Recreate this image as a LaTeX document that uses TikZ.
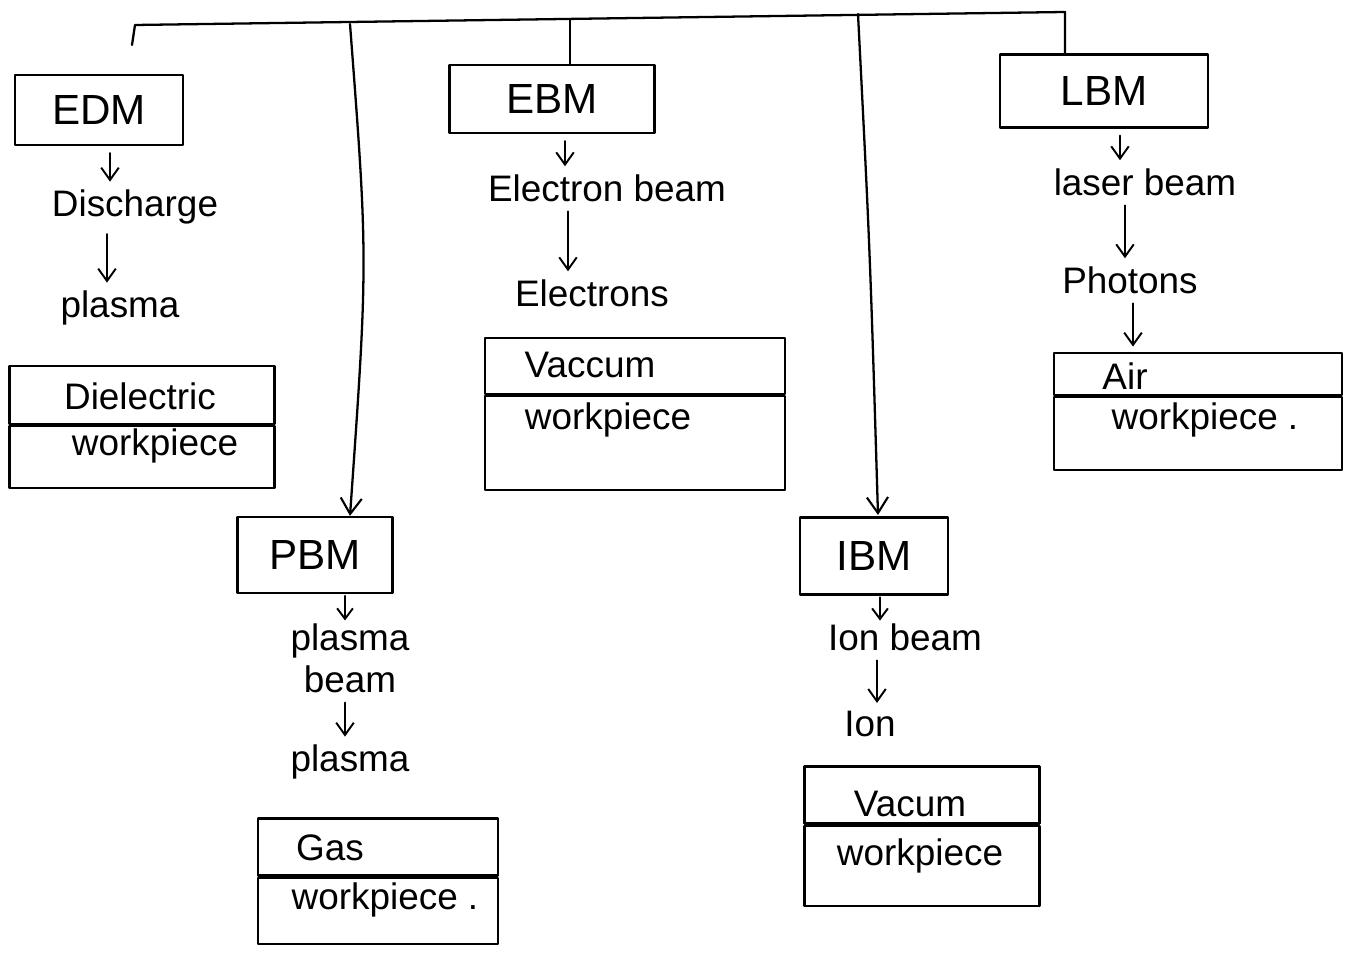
\documentclass[tikz,border=0pt]{standalone}
\usepackage{fontspec}
\setmainfont{Liberation Sans}
\usetikzlibrary{arrows.meta}
\begin{document}
\begin{tikzpicture}[x=0.02cm,y=-0.02cm,
  line width=1.3pt, line cap=round, line join=round,
  box/.style={draw, line width=1.3pt, inner sep=0pt},
  lbl/.style={font=\fontsize{21}{24}\selectfont, inner sep=1pt, align=center},
  blbl/.style={font=\fontsize{24}{28}\selectfont, inner sep=1pt},
  arr/.style={-{Straight Barb[length=9pt,width=12pt,line width=1.2pt]}},
  sarr/.style={-{Straight Barb[length=7pt,width=10pt,line width=1.1pt]}, line width=1.1pt, shorten <=4pt, shorten >=3pt},
  tarr/.style={-{Straight Barb[length=6pt,width=9pt,line width=1.1pt]}, line width=1.1pt, shorten <=1pt}]
\useasboundingbox (0,0) rectangle (1353,955);
\fill[white] (0,0) rectangle (1353,955);

% ---------- top level boxes ----------
\node[box, minimum width=168*0.02cm, minimum height=70*0.02cm] (edm) at (99,110) {};
\node[blbl] (edmt) at (edm.center) {EDM};
\node[box, minimum width=205*0.02cm, minimum height=68*0.02cm] (ebm) at (552,99) {};
\node[blbl] (ebmt) at (ebm.center) {EBM};
\node[box, minimum width=208*0.02cm, minimum height=73*0.02cm] (lbm) at (1104,91) {};
\node[blbl] (lbmt) at (lbm.center) {LBM};
\node[box, minimum width=155*0.02cm, minimum height=76*0.02cm] (pbm) at (315,555) {};
\node[blbl] (pbmt) at (pbm.center) {PBM};
\node[box, minimum width=148*0.02cm, minimum height=77*0.02cm] (ibm) at (874,556) {};
\node[blbl] (ibmt) at (ibm.center) {IBM};

% ---------- top connectors ----------
\coordinate (tl) at (132,45);
\coordinate (tc) at (135,25);
\coordinate (tr) at (1065,12);
\coordinate (te) at (570,20);
\coordinate (p1) at (350,24);
\coordinate (i1) at (858,14);
\draw (tl) -- (tc) -- (tr) -- (tr |- lbm.north);
\draw (te) -- (te |- ebm.north);
\draw[arr] (p1) .. controls (368,260) .. (p1 |- pbm.north);
\draw[arr] (i1) .. controls (870,250) .. (878,515);

% ---------- EDM column ----------
\node[lbl] (dis) at (135,207) {Discharge};
\node[lbl] (pl1) at (120,308) {plasma};
\draw[sarr] (edm.south -| 110,0) -- (dis.north -| 110,0);
\draw[sarr] (dis.south -| 107,0) -- (pl1.north -| 107,0);
\node[box, minimum width=265*0.02cm, minimum height=58*0.02cm] (die) at (142,395) {};
\node[box, minimum width=265*0.02cm, minimum height=62*0.02cm, anchor=north] (wp1) at (die.south) {};
\node[lbl] (diet) at (140,396) {Dielectric};
\node[lbl] (wp1t) at (155,446) {workpiece};

% ---------- EBM column ----------
\node[lbl] (eb) at (607,188) {Electron beam};
\node[lbl] (els) at (592,293) {Electrons};
\draw[sarr] (ebm.south -| 565,0) -- (eb.north -| 565,0);
\draw[sarr] (eb.south -| 568,0) -- (els.north -| 568,0);
\node[box, minimum width=300*0.02cm, minimum height=56*0.02cm] (vac1) at (635,366) {};
\node[box, minimum width=300*0.02cm, minimum height=94*0.02cm, anchor=north] (wp2) at (vac1.south) {};
\node[lbl] (vac1t) at (590,365) {Vaccum};
\node[lbl] (wp2t) at (608,420) {workpiece};

% ---------- LBM column ----------
\node[lbl] (lb) at (1145,182) {laser beam};
\node[lbl] (ph) at (1130,280) {Photons};
\draw[sarr] (lbm.south -| 1120,0) -- (lb.north -| 1120,0);
\draw[sarr] (lb.south -| 1125,0) -- (ph.north -| 1125,0);
\node[box, minimum width=288*0.02cm, minimum height=42*0.02cm] (air) at (1198,374) {};
\node[box, minimum width=288*0.02cm, minimum height=73*0.02cm, anchor=north] (wp3) at (air.south) {};
\draw[sarr] (ph.south -| 1133,0) -- (air.north -| 1133,0);
\node[lbl] (airt) at (1125,376) {Air};
\node[lbl] (wp3t) at (1205,420) {workpiece .};

% ---------- PBM column ----------
\node[lbl] (pb) at (350,658) {plasma\\beam};
\node[lbl] (pl2) at (350,762) {plasma};
\draw[tarr] (pbm.south -| 345,0) -- (pb.north -| 345,0);
\draw[sarr] (pb.south -| 345,0) -- (pl2.north -| 345,0);
\node[box, minimum width=240*0.02cm, minimum height=57*0.02cm] (gas) at (378,847) {};
\node[box, minimum width=240*0.02cm, minimum height=66*0.02cm, anchor=north] (wp4) at (gas.south) {};
\node[lbl] (gast) at (330,848) {Gas};
\node[lbl] (wp4t) at (385,900) {workpiece .};

% ---------- IBM column ----------
\node[lbl] (ib) at (905,637) {Ion beam};
\node[lbl] (ion) at (870,724) {Ion};
\draw[tarr] (ibm.south -| 880,0) -- (ib.north -| 880,0);
\draw[sarr] (ib.south -| 877,0) -- (ion.north -| 877,0);
\node[box, minimum width=235*0.02cm, minimum height=57*0.02cm] (vac2) at (922,795) {};
\node[box, minimum width=235*0.02cm, minimum height=80*0.02cm, anchor=north] (wp5) at (vac2.south) {};
\node[lbl] (vac2t) at (910,804) {Vacum};
\node[lbl] (wp5t) at (920,856) {workpiece};
\end{tikzpicture}
\end{document}
